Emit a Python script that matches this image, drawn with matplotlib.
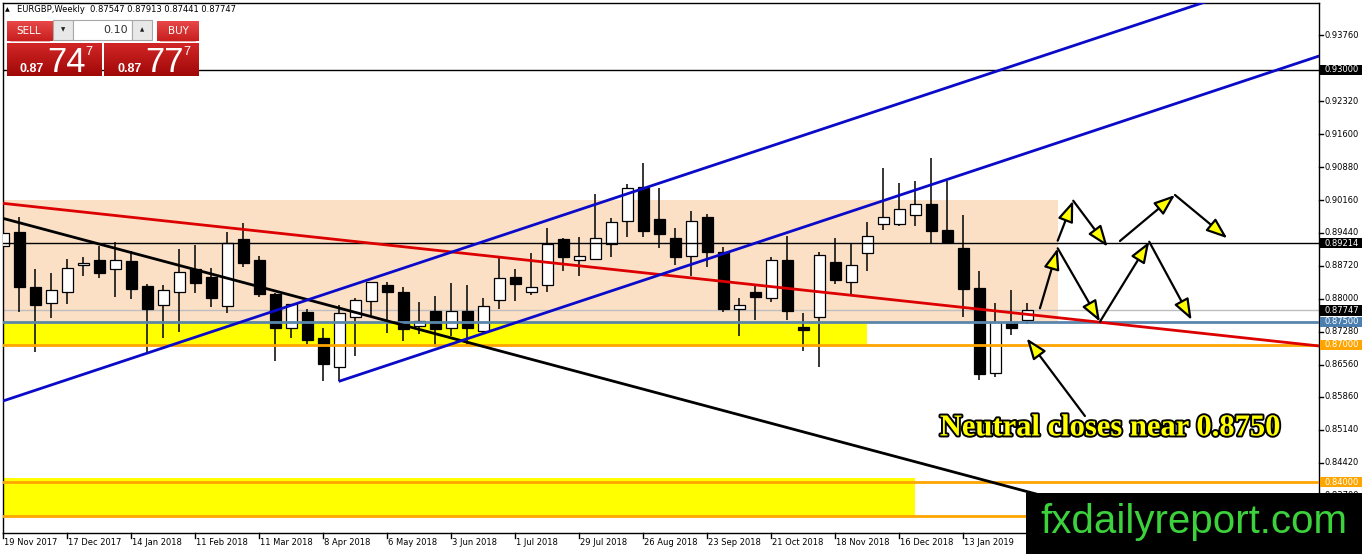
import matplotlib
matplotlib.use("Agg")
import matplotlib.pyplot as plt
import numpy as np
from matplotlib.patches import Rectangle
import matplotlib.transforms as mtransforms
import matplotlib.patheffects as pe

# ---------------- data (EURGBP weekly, weeks from 19 Nov 2017) ----------------
opens = [0.8916, 0.8947, 0.8826, 0.8792, 0.8816, 0.8873, 0.8885, 0.8865, 0.8883, 0.8828,
         0.8786, 0.8814, 0.8865, 0.8848, 0.8785, 0.8930, 0.8885, 0.8811, 0.8736, 0.8772,
         0.8714, 0.8651, 0.8760, 0.8796, 0.8830, 0.8815, 0.8741, 0.8774, 0.8736, 0.8774,
         0.8730, 0.8798, 0.8847, 0.8814, 0.8830, 0.8930, 0.8884, 0.8887, 0.8920, 0.8971,
         0.9045, 0.8975, 0.8932, 0.8894, 0.8978, 0.8903, 0.8777, 0.8814, 0.8803, 0.8885,
         0.8738, 0.8760, 0.8881, 0.8838, 0.8900, 0.8964, 0.8964, 0.8983, 0.9007, 0.8951,
         0.8912, 0.8824, 0.8639, 0.8750, 0.87547]
highs = [0.8958, 0.8978, 0.8865, 0.8856, 0.8887, 0.8891, 0.8916, 0.8924, 0.8905, 0.8833,
         0.8830, 0.8908, 0.8918, 0.8867, 0.8947, 0.8965, 0.8894, 0.8812, 0.8789, 0.8779,
         0.8736, 0.8787, 0.8801, 0.8838, 0.8838, 0.8825, 0.8793, 0.8806, 0.8834, 0.8830,
         0.8801, 0.8889, 0.8865, 0.8901, 0.8954, 0.8932, 0.8935, 0.9029, 0.8976, 0.9051,
         0.9097, 0.9042, 0.8954, 0.8993, 0.8985, 0.8914, 0.8803, 0.8828, 0.8892, 0.8937,
         0.8770, 0.8903, 0.8932, 0.8923, 0.8967, 0.9085, 0.9054, 0.9058, 0.9107, 0.9058,
         0.8983, 0.8861, 0.8790, 0.8819, 0.87913]
lows = [0.8838, 0.8772, 0.8685, 0.8758, 0.8789, 0.8850, 0.8845, 0.8805, 0.8799, 0.8683,
        0.8714, 0.8728, 0.8812, 0.8782, 0.8769, 0.8870, 0.8805, 0.8665, 0.8714, 0.8702,
        0.8621, 0.8621, 0.8675, 0.8761, 0.8725, 0.8709, 0.8723, 0.8696, 0.8718, 0.8699,
        0.8725, 0.8777, 0.8796, 0.8809, 0.8814, 0.8862, 0.8850, 0.8885, 0.8892, 0.8936,
        0.8936, 0.8911, 0.8874, 0.8849, 0.8869, 0.8772, 0.8719, 0.8753, 0.8794, 0.8753,
        0.8687, 0.8652, 0.8833, 0.8809, 0.8860, 0.8951, 0.8959, 0.8959, 0.8923, 0.8920,
        0.8760, 0.8623, 0.8630, 0.8721, 0.87441]
closes = [0.8943, 0.8825, 0.8787, 0.8819, 0.8867, 0.8878, 0.8857, 0.8886, 0.8821, 0.8777,
          0.8819, 0.8858, 0.8834, 0.8801, 0.8923, 0.8879, 0.8811, 0.8737, 0.8788, 0.8710,
          0.8657, 0.8770, 0.8798, 0.8836, 0.8814, 0.8734, 0.8752, 0.8734, 0.8774, 0.8736,
          0.8785, 0.8845, 0.8833, 0.8825, 0.8921, 0.8892, 0.8893, 0.8932, 0.8967, 0.9042,
          0.8949, 0.8941, 0.8891, 0.8971, 0.8903, 0.8777, 0.8786, 0.8805, 0.8885, 0.8774,
          0.8731, 0.8896, 0.8841, 0.8874, 0.8937, 0.8978, 0.8996, 0.9007, 0.8949, 0.8925,
          0.8822, 0.8637, 0.8750, 0.8737, 0.87747]

date_labels = ["19 Nov 2017", "17 Dec 2017", "14 Jan 2018", "11 Feb 2018", "11 Mar 2018",
               "8 Apr 2018", "6 May 2018", "3 Jun 2018", "1 Jul 2018", "29 Jul 2018",
               "26 Aug 2018", "23 Sep 2018", "21 Oct 2018", "18 Nov 2018", "16 Dec 2018",
               "13 Jan 2019"]
price_ticks = [0.93760, 0.92320, 0.91600, 0.90880, 0.90160, 0.89440, 0.88720, 0.88000,
               0.87280, 0.86560, 0.85860, 0.85140, 0.84420, 0.83700]
# highlighted price labels: (price, background)
marked_levels = [(0.93000, "black"), (0.89214, "black"), (0.87747, "black"),
                 (0.87500, "#4A7FB0"), (0.87000, "#FFA500"), (0.84000, "#FFA500")]

# scenario arrows (tail -> tip) in (week index, price)
arrow_paths = [((64.78, 0.87795), (65.89, 0.89105)),
               ((65.89, 0.89105), (68.53, 0.87502)),
               ((68.53, 0.87502), (71.61, 0.89249)),
               ((71.61, 0.89249), (74.26, 0.87539)),
               ((65.89, 0.89271), (66.86, 0.90145)),
               ((66.86, 0.90145), (69.01, 0.89140)),
               ((69.78, 0.89265), (73.22, 0.90270)),
               ((73.22, 0.90270), (76.49, 0.89324)),
               ((67.59, 0.85442), (63.95, 0.87139))]

# ---------------- figure ----------------
W, H = 1362, 554
fig = plt.figure(figsize=(W / 100, H / 100), dpi=100)
fig.patch.set_facecolor("white")
ax = fig.add_axes([2.7 / W, 1 - 533.3 / H, (1319.3 - 2.7) / W, (533.3 - 2.7) / H])
ax.set_xlim(-0.05, 82.24)
ax.set_ylim(0.82880, 0.94470)
ax.set_xticks([])
ax.set_yticks([])
for s in ax.spines.values():
    s.set_color("black")
    s.set_linewidth(1)

# zones
ax.add_patch(Rectangle((-1, 0.8750), 66.91, 0.0265, fc="#FBE0C6", ec="none", zorder=1))
ax.add_patch(Rectangle((-1, 0.8697), 54.97, 0.0054, fc="#FFFF00", ec="none", zorder=1))
ax.add_patch(Rectangle((-1, 0.8323), 57.97, 0.0085, fc="#FFFF00", ec="none", zorder=1))

# horizontal levels
ax.axhline(0.93000, color="black", lw=1, zorder=4)
ax.axhline(0.89214, color="black", lw=1, zorder=4)
ax.axhline(0.87747, color="#BEBEBE", lw=1, zorder=2)
ax.axhline(0.87500, color="#5B86AC", lw=2, zorder=4)
ax.axhline(0.87000, color="#FFA500", lw=2, zorder=4)
ax.axhline(0.84000, color="#FFA500", lw=2, zorder=4)
ax.axhline(0.83250, color="#FFA500", lw=2, zorder=4)

# candles
xs = np.arange(len(opens))
o = np.array(opens); h = np.array(highs); l = np.array(lows); c = np.array(closes)
ax.vlines(xs, l, h, color="black", lw=1.1, zorder=3)
bull = c >= o
body_lo = np.minimum(o, c)
body_hi = np.maximum(o, c)
ax.bar(xs, np.maximum(body_hi - body_lo, 0.00015), bottom=body_lo, width=0.66,
       color=np.where(bull, "white", "black"), edgecolor="black", linewidth=0.9, zorder=3.5)

# trend lines
ax.plot([-0.05, 82.24], [0.90088, 0.86971], color="#DD0000", lw=2, zorder=5)
ax.plot([-0.05, 82.24], [0.89761, 0.82088], color="black", lw=2, zorder=5)
ax.plot([-0.05, 78.0], [0.85768, 0.94821], color="#0A0AC8", lw=2, zorder=5)
ax.plot([21.03, 82.24], [0.86207, 0.93307], color="#0A0AC8", lw=2, zorder=5)

# arrows
for tail, tip in arrow_paths:
    ax.annotate("", xy=tip, xytext=tail, xycoords="data", textcoords="data",
                arrowprops=dict(arrowstyle="-|>,head_length=0.8,head_width=0.3",
                                fc="#FFFF00", ec="black", lw=1.6, mutation_scale=16,
                                shrinkA=0, shrinkB=0), zorder=6)

# annotation text
ax.text(1110, 428, "", zorder=7)
fig.text(1110 / W, 1 - 428 / H, "Neutral closes near 0.8750", ha="center", va="center",
         fontsize=22, fontweight="bold", family="Liberation Serif", color="#FFFF00",
         path_effects=[pe.Stroke(linewidth=2.8, foreground="black"), pe.Normal()], zorder=8)

# x axis ticks / labels
bx = mtransforms.blended_transform_factory(ax.transData, ax.transAxes)
for i, lab in enumerate(date_labels):
    xi = 4 * i
    ax.plot([xi, xi], [0, -0.008], transform=bx, color="black", lw=1, clip_on=False)
    ax.text(xi + 0.06, -0.0165, lab, transform=bx, ha="left", va="center",
            fontsize=6, family="DejaVu Sans", color="black", clip_on=False)

# y axis labels
by = mtransforms.blended_transform_factory(ax.transAxes, ax.transData)
for p in price_ticks:
    ax.plot([1.0, 1.0025], [p, p], transform=by, color="black", lw=1, clip_on=False)
    ax.text(1.0043, p, f"{p:.5f}", transform=by, ha="left", va="center", fontsize=6,
            family="DejaVu Sans", color="black", clip_on=False)
for p, bg in marked_levels:
    ax.add_patch(Rectangle((1.0008, p - 0.00113), 0.0316, 0.00226, transform=by,
                           fc=bg, ec="none", clip_on=False, zorder=6))
    ax.text(1.0043, p, f"{p:.5f}", transform=by, ha="left", va="center", fontsize=6,
            family="DejaVu Sans", color="white", clip_on=False, zorder=7)

# ---------------- header / trade panel (figure pixel helpers) ----------------
def frect(x0, y0, x1, y1, **kw):
    r = Rectangle((x0 / W, 1 - y1 / H), (x1 - x0) / W, (y1 - y0) / H,
                  transform=fig.transFigure, **kw)
    fig.add_artist(r)
    return r

def ftext(x, y, s, **kw):
    return fig.text(x / W, 1 - y / H, s, **kw)

ftext(5, 10, "\u25B2", fontsize=4.5, va="center", ha="left", color="black")
ftext(17, 10, "EURGBP,Weekly  0.87547 0.87913 0.87441 0.87747", fontsize=6,
      va="center", ha="left", color="black", family="DejaVu Sans")

def grad_box(x0, y0, x1, y1, top, bottom):
    gax = fig.add_axes([x0 / W, 1 - y1 / H, (x1 - x0) / W, (y1 - y0) / H])
    t = np.array(matplotlib.colors.to_rgb(top))
    b = np.array(matplotlib.colors.to_rgb(bottom))
    f = np.linspace(0, 1, 50)[:, None]
    img = (t[None, :] * (1 - f) + b[None, :] * f)[:, None, :]
    gax.imshow(img, aspect="auto", interpolation="bilinear")
    gax.set_axis_off()
    return gax

grad_box(7, 21, 53, 41, "#E84848", "#C81E1E")
grad_box(157, 21, 199, 41, "#E84848", "#C81E1E")
grad_box(7, 43, 102, 76, "#D22626", "#A00808")
grad_box(104, 43, 199, 76, "#D22626", "#A00808")
frect(10, 41.2, 50, 42.2, fc="#F0B0B0", ec="none")
frect(160, 41.2, 196, 42.2, fc="#F0B0B0", ec="none")
frect(53, 20, 73, 40, fc="#E8E8E8", ec="#A8A8A8", lw=0.8)
frect(73, 20, 132, 40, fc="white", ec="#A8A8A8", lw=0.8)
frect(132, 20, 152, 40, fc="#E8E8E8", ec="#A8A8A8", lw=0.8)
ftext(63, 30, "\u25BC", fontsize=4, ha="center", va="center", color="#202020")
ftext(142, 30, "\u25B2", fontsize=4, ha="center", va="center", color="#202020")
ftext(128, 30, "0.10", fontsize=8, ha="right", va="center", color="#303030")
ftext(29, 31, "SELL", fontsize=7.5, ha="center", va="center", color="white")
ftext(178, 31, "BUY", fontsize=7.5, ha="center", va="center", color="white")
for x0, big in ((19, "74"), (117, "77")):
    ftext(x0, 72, "0.87", fontsize=9, fontweight="bold", ha="left", va="baseline",
          color="white", family="Liberation Sans")
    ftext(x0 + 28, 72, big, fontsize=25, ha="left", va="baseline", color="white",
          family="Liberation Sans")
    ftext(x0 + 66, 46, "7", fontsize=9, ha="left", va="top", color="white",
          family="Liberation Sans")

# watermark
frect(1026, 493.3, 1362, 554, fc="black", ec="none", zorder=9)
ftext(1040, 533, "fxdailyreport.com", fontsize=29, ha="left", va="baseline",
      color="#3CD23C", family="Liberation Sans", zorder=10)

fig.savefig("out.png", dpi=100)
